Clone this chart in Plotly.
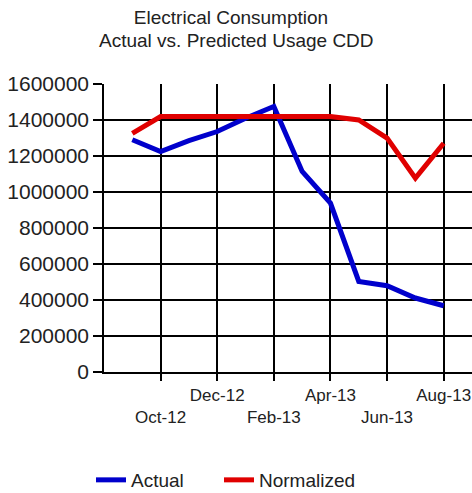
import plotly.graph_objects as go

# ---- data ----
months = ["Sep-12", "Oct-12", "Nov-12", "Dec-12", "Jan-13", "Feb-13",
          "Mar-13", "Apr-13", "May-13", "Jun-13", "Jul-13", "Aug-13"]
actual = [1290000, 1225000, 1285000, 1336000, 1410000, 1475000,
          1114000, 938000, 503000, 479000, 411000, 368000]
normalized = [1326000, 1419000, 1419000, 1419000, 1419000, 1419000,
              1419000, 1419000, 1400000, 1299000, 1077000, 1271000]
tick_row1 = ["Dec-12", "Apr-13", "Aug-13"]
tick_row2 = ["Oct-12", "Feb-13", "Jun-13"]
grid_ticks = ["Oct-12", "Dec-12", "Feb-13", "Apr-13", "Jun-13", "Aug-13"]
y_ticks = [0, 200000, 400000, 600000, 800000, 1000000, 1200000, 1400000, 1600000]
title_line1 = "Electrical Consumption"
title_line2 = "Actual vs. Predicted Usage CDD"

FONT = "Liberation Sans, Arial, sans-serif"
TXT = "#222222"

fig = go.Figure()
fig.add_trace(go.Scatter(x=months, y=actual, mode="lines", name="Actual",
                         line=dict(color="#0000CC", width=5), legend="legend"))
fig.add_trace(go.Scatter(x=months, y=normalized, mode="lines", name="Normalized",
                         line=dict(color="#E00000", width=5), legend="legend2"))

leg_common = dict(orientation="h", xref="container", yref="container",
                  xanchor="left", yanchor="middle", y=1 - 480 / 493,
                  font=dict(size=19, color=TXT), bgcolor="rgba(0,0,0,0)")

fig.update_layout(
    width=472, height=493,
    margin=dict(l=104, r=0, t=84, b=121),
    paper_bgcolor="white", plot_bgcolor="white",
    font=dict(family=FONT, color=TXT, size=17),
    title=dict(text=title_line1, x=231 / 472, xref="container", xanchor="center",
               y=1 - 17 / 493, yref="container", yanchor="middle",
               font=dict(size=19, color=TXT, family=FONT)),
    xaxis=dict(type="category", categoryorder="array", categoryarray=months,
               range=[-1, 12], tickmode="array", tickvals=grid_ticks,
               ticktext=[t if t in tick_row1 else "<br>" + t for t in grid_ticks],
               showgrid=True, gridcolor="black", gridwidth=1.5,
               showline=True, linecolor="black", linewidth=1.5,
               ticks="outside", ticklen=7, tickcolor="black", tickwidth=1.5,
               tickfont=dict(size=17, color=TXT), zeroline=False),
    yaxis=dict(range=[0, 1600000], tickmode="array", tickvals=y_ticks,
               ticktext=[str(v) for v in y_ticks],
               showgrid=True, gridcolor="black", gridwidth=1.5,
               showline=True, linecolor="black", linewidth=1.5,
               ticks="outside", ticklen=9, tickcolor="black", tickwidth=1.5,
               tickfont=dict(size=21, color=TXT), zeroline=False),
    legend=dict(x=91 / 472, **leg_common),
    legend2=dict(x=219 / 472, **leg_common),
    showlegend=True,
)

fig.add_annotation(text=title_line2, xref="paper", yref="paper",
                   x=(236 - 104) / 368, y=(372 - 40) / 288,
                   xanchor="center", yanchor="middle", showarrow=False,
                   font=dict(size=19, color=TXT, family=FONT))

fig.write_html("out.html")
